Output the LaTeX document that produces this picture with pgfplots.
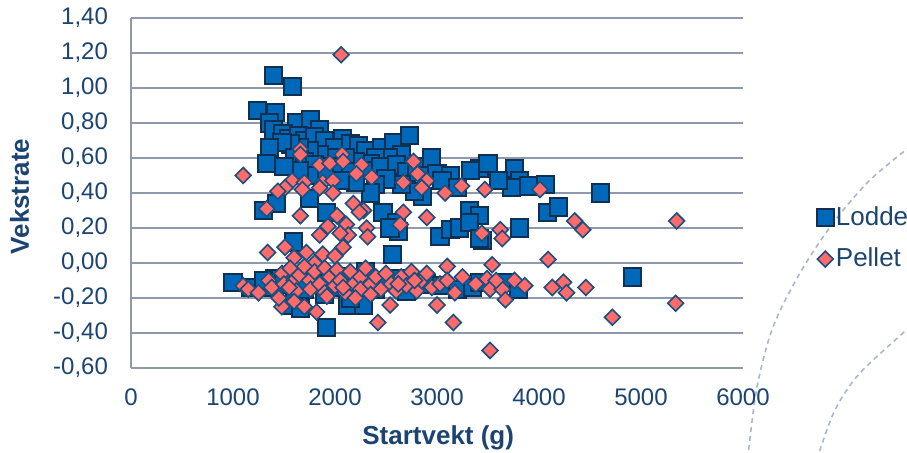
\documentclass[border=0pt]{standalone}
\usepackage{pgfplots}
\pgfplotsset{compat=1.18}
\usepackage{fontspec}
\setmainfont{Liberation Sans}
\definecolor{txt}{HTML}{1B4472}
\definecolor{gridc}{HTML}{8F99AC}
\definecolor{lodfill}{HTML}{0068B8}
\definecolor{loddraw}{HTML}{0F3050}
\definecolor{pelfill}{HTML}{FF6A6A}
\definecolor{peldraw}{HTML}{1B4F7F}
\definecolor{deco}{HTML}{A9B8C8}
\begin{document}
\begin{tikzpicture}
\useasboundingbox (-65.5pt,-42.5pt) rectangle (388pt,184pt);
% decorative template arcs
\draw[deco, line width=0.8pt, dash pattern=on 2.5pt off 2pt] plot[smooth] coordinates {(390pt,111pt) (369.5pt,94pt) (351pt,72.5pt) (334.5pt,47.5pt) (321pt,20.5pt) (313pt,-9.5pt) (308.5pt,-44pt)};
\draw[deco, line width=0.8pt, dash pattern=on 2.5pt off 2pt] plot[smooth] coordinates {(390pt,21pt) (364.5pt,-2.5pt) (352pt,-21pt) (343.5pt,-44pt)};
\begin{axis}[
    at={(0pt,0pt)}, anchor=south west,
    scale only axis, width=306pt, height=175pt,
    xmin=0, xmax=6000, ymin=-0.6, ymax=1.4,
    xtick={0,1000,2000,3000,4000,5000,6000},
    xticklabels={0,1000,2000,3000,4000,5000,6000},
    ytick={-0.6,-0.4,-0.2,0,0.2,0.4,0.6,0.8,1.0,1.2,1.4},
    yticklabels={{-0,60},{-0,40},{-0,20},{0,00},{0,20},{0,40},{0,60},{0,80},{1,00},{1,20},{1,40}},
    axis lines*=left, axis line style={-, draw=gridc, line width=0.8pt},
    ymajorgrids, grid style={draw=gridc, line width=0.8pt},
    tick style={draw=none},
    ticklabel style={font=\fontsize{12}{14}\selectfont, text=txt},
    yticklabel style={xshift=-8pt},
    xticklabel style={yshift=-7pt},
    xlabel={Startvekt (g)}, ylabel={Vekstrate},
    label style={font=\fontsize{13}{15}\selectfont\bfseries, text=txt},
    xlabel style={at={(axis description cs:0.502,-0.2)}, anchor=center},
    ylabel style={at={(axis description cs:-0.182,0.49)}, anchor=center},
    legend style={draw=none, fill=none, at={(axis description cs:1.11,0.371)}, anchor=west,
        font=\fontsize{13}{15}\selectfont, text=txt, row sep=6pt,
        nodes={inner xsep=1pt}},
    legend cell align=left,
    legend image code/.code={\draw[#1] plot coordinates {(0pt,0pt)};},
    clip=false,
]
\addplot[only marks, mark=square*, mark size=4.3pt,
    mark options={fill=lodfill, draw=loddraw, line width=1pt}] coordinates {
(1400,1.07) (1580,1.01) (1240,0.87) (1420,0.86) (1360,0.80) (1400,0.76) (1620,0.80) (1760,0.82)
(1850,0.76) (1490,0.74) (1550,0.71) (1640,0.73) (1700,0.70) (1800,0.72) (1900,0.70) (2070,0.71)
(2000,0.66) (2150,0.68) (2230,0.67) (2300,0.64) (2460,0.66) (2570,0.69) (2730,0.73) (2650,0.62)
(2520,0.60) (2400,0.60) (2350,0.57) (2200,0.58) (2100,0.60) (1950,0.60) (1850,0.62) (1750,0.64)
(1650,0.66) (1560,0.68) (1480,0.69) (1360,0.66) (1330,0.57) (1600,0.60) (1700,0.58) (1800,0.56)
(1950,0.55) (2050,0.53) (2150,0.52) (2300,0.53) (2450,0.55) (2600,0.56) (2700,0.52) (2800,0.55)
(2950,0.60) (2900,0.50) (3000,0.51) (3130,0.50) (2860,0.38) (2780,0.41) (2650,0.45) (2500,0.48)
(2400,0.45) (2350,0.40) (2200,0.46) (2050,0.47) (1900,0.50) (1750,0.50) (1650,0.53) (1500,0.55)
(3050,0.47) (3420,0.54) (3500,0.57) (3330,0.53) (3760,0.54) (3810,0.47) (3730,0.43) (4060,0.45)
(4600,0.40) (3200,0.43) (3600,0.47) (3900,0.44)
(1300,0.30) (1430,0.34) (1750,0.37) (1920,0.29) (2470,0.29) (2600,0.23) (2620,0.18) (2540,0.20)
(2560,0.05) (3030,0.15) (3130,0.19) (3220,0.20) (3320,0.30) (3420,0.27) (3320,0.23) (3450,0.13)
(3420,0.14) (3810,0.20) (4080,0.29) (4190,0.32) (1590,0.12)
(1000,-0.11) (1170,-0.14) (1300,-0.14) (1410,-0.09) (1300,-0.10) (1500,-0.12) (1580,-0.24)
(1660,-0.26) (1600,-0.18) (1700,-0.15) (1800,-0.12) (1920,-0.37) (1900,-0.18) (2000,-0.14)
(2120,-0.24) (2280,-0.24) (2150,-0.20) (2200,-0.12) (2400,-0.15) (2500,-0.10) (2610,-0.09)
(2760,-0.10) (2700,-0.16) (2900,-0.12) (3050,-0.13) (3200,-0.15) (3350,-0.14) (3420,-0.11)
(3680,-0.11) (3800,-0.15) (4920,-0.08) (1750,-0.05) (2050,-0.08) (2300,-0.05)
};
\addlegendentry{Lodde}
\addplot[only marks, mark=square*, mark size=2.8pt,
    mark options={rotate=45, fill=pelfill, draw=peldraw, line width=0.8pt}] coordinates {
(2060,1.19) (1100,0.50)
(1660,0.65) (1660,0.62) (1850,0.56) (1950,0.57) (2070,0.62) (2080,0.58) (2260,0.56) (2210,0.51)
(2360,0.49) (2770,0.58) (2810,0.51) (2900,0.47) (2670,0.46) (2850,0.43) (3080,0.40) (3240,0.44)
(3470,0.42) (4010,0.42) (1580,0.47) (1700,0.46) (1510,0.43) (1440,0.41) (1680,0.42) (1880,0.46)
(1980,0.47) (1850,0.43) (1980,0.40) (2180,0.34) (2280,0.30) (1330,0.31) (1660,0.27) (2020,0.27)
(2240,0.29) (2670,0.29) (2900,0.26)
(1850,0.16) (1930,0.21) (2110,0.22) (2130,0.16) (2310,0.20) (2320,0.15) (2640,0.22) (2050,0.17)
(4350,0.24) (4430,0.19) (5350,0.24) (3440,0.17) (3620,0.19) (3640,0.14) (4090,0.02) (3100,-0.02)
(3540,-0.01) (2080,0.09) (1340,0.06) (1510,0.09) (1720,0.06) (1880,0.05) (1600,0.03) (1800,0.00)
(2000,0.04)
(1100,-0.13) (1150,-0.15) (1350,-0.10) (1380,-0.14) (1480,-0.06) (1500,-0.12) (1480,-0.25)
(1560,-0.03) (1600,-0.10) (1620,-0.16) (1650,-0.07) (1700,-0.02) (1750,-0.10) (1760,-0.15)
(1800,-0.05) (1820,-0.28) (1850,-0.12) (1900,-0.03) (1900,-0.17) (1950,-0.08) (2000,-0.13)
(2020,-0.04) (2050,-0.10) (2100,-0.17) (2150,-0.05) (2180,-0.12) (2250,-0.08) (2250,-0.15)
(2300,-0.03) (2350,-0.12) (2420,-0.34) (2400,-0.08) (2450,-0.15) (2500,-0.06) (2550,-0.12)
(2600,-0.16) (2650,-0.08) (2700,-0.13) (2750,-0.05) (2800,-0.16) (2850,-0.10) (2900,-0.06)
(2950,-0.14) (3000,-0.24) (3030,-0.12) (3160,-0.34) (3175,-0.17) (3250,-0.08) (3490,-0.09)
(3520,-0.15) (3640,-0.15) (3670,-0.21) (3760,-0.10) (3860,-0.13) (4130,-0.14) (4240,-0.11)
(4270,-0.17) (4460,-0.14) (4720,-0.31) (3520,-0.50) (5340,-0.23) (2540,-0.24) (1600,-0.22)
(1700,-0.25) (1920,-0.19) (2200,-0.20) (1450,-0.20) (1250,-0.17) (1550,-0.14) (2080,-0.14)
(2350,-0.18) (2620,-0.12) (2780,-0.10) (3100,-0.10) (3380,-0.12) (3580,-0.10)
};
\addlegendentry{Pellet}
\end{axis}
\end{tikzpicture}
\end{document}
